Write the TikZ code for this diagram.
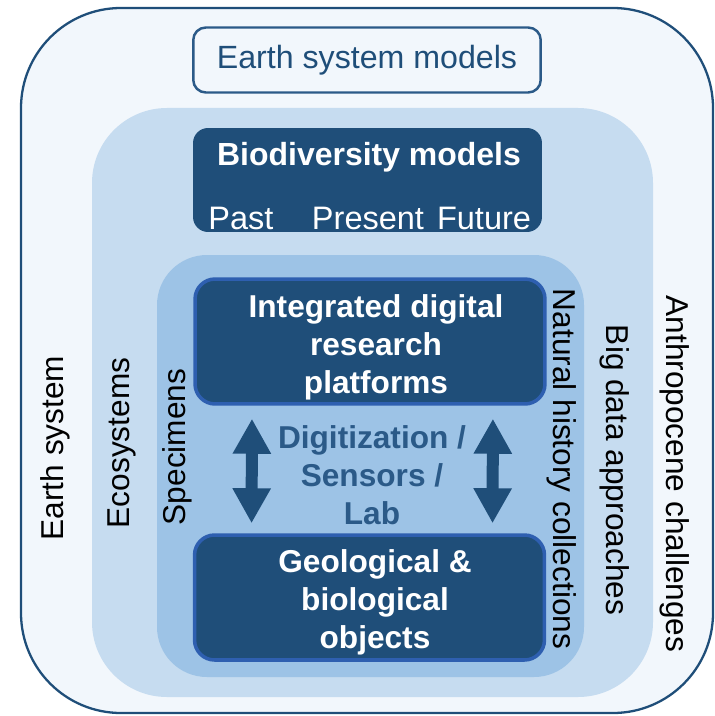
\documentclass[tikz,border=0pt]{standalone}
\usepackage{fontspec}
\setmainfont{Liberation Sans}
\usetikzlibrary{arrows.meta}
\definecolor{navy}{HTML}{1F4E79}
\definecolor{edgeblue}{HTML}{2E5FB0}
\definecolor{paleblue}{HTML}{F2F7FC}
\definecolor{lightblue}{HTML}{C6DCF0}
\definecolor{midblue}{HTML}{9DC3E6}
\definecolor{textblue}{HTML}{2B5A88}

\begin{document}
\begin{tikzpicture}[x=0.02cm,y=-0.02cm]
  \tikzstyle darkbox=[fill=navy, rounded corners=0.4cm, draw=edgeblue,
    line width=2pt, minimum width=7cm, minimum height=2.5cm]
  \tikzstyle boxtext=[text=white, align=center,
    font=\bfseries\fontsize{18}{21.6}\selectfont]
  \tikzstyle sidetext=[font=\fontsize{18}{21}\selectfont]
  \tikzstyle bigarrow=[navy, line width=0.24cm,
    {Triangle[width=0.72cm,length=0.7cm]}-{Triangle[width=0.72cm,length=0.7cm]}]
  \useasboundingbox (0,0) rectangle (715,716);
  % nested regions
  \draw [draw=navy, fill=paleblue, line width=1.3pt, rounded corners=2cm] (21,8) rectangle (713,713);
  \fill [lightblue, rounded corners=1.5cm] (92,108) rectangle (653,697);
  \fill [midblue, rounded corners=1cm] (157,255) rectangle (584,677);
  % models
  \node [draw=textblue, fill=paleblue, line width=1.4pt, rounded corners=0.25cm,
    minimum width=6.95cm, minimum height=1.3cm, text=navy,
    font=\fontsize{18.3}{21}\selectfont] (esm) at (367,60) {Earth system models};
  \node [fill=navy, rounded corners=0.3cm, minimum width=6.98cm, minimum height=2.08cm] (bio) at (367.5,180) {};
  \node [text=white, font=\bfseries\fontsize{18.2}{21}\selectfont] (biotitle) at (369,157) {Biodiversity models};
  \node [text=white, font=\fontsize{18.5}{21}\selectfont] (past) at (241,218) {Past};
  \node [text=white, font=\fontsize{18.5}{21}\selectfont] (present) at (368,218) {Present};
  \node [text=white, font=\fontsize{18.5}{21}\selectfont] (future) at (484,218) {Future};
  % platforms and objects
  \node [darkbox] (platform) at (370,341.5) {};
  \node [boxtext] (platformtext) at (376,347.5) {Integrated digital\\research\\platforms};
  \node [darkbox] (objects) at (369.5,597.5) {};
  \node [boxtext] (objectstext) at (375,602.5) {Geological \&\\biological\\objects};
  \node [text=textblue, align=center, font=\bfseries\fontsize{18}{21.6}\selectfont] (digit) at (372,475) {Digitization /\\Sensors /\\Lab};
  \draw [bigarrow, shorten <=0.26cm, shorten >=0.2cm] ([xshift=-2.36cm]platform.south) -- ([xshift=-2.36cm]objects.north);
  \draw [bigarrow, shorten <=0.26cm, shorten >=0.2cm] ([xshift=2.46cm]platform.south) -- ([xshift=2.46cm]objects.north);
  % side labels
  \node [sidetext, rotate=90] (earth) at (55,448) {Earth system};
  \node [sidetext, rotate=90] (eco) at (122,443) {Ecosystems};
  \node [sidetext, rotate=90] (spec) at (177,447) {Specimens};
  \node [sidetext, rotate=-90] (nat) at (562,469) {Natural history collections};
  \node [sidetext, rotate=-90] (big) at (615,470) {Big data approaches};
  \node [sidetext, rotate=-90] (anthro) at (675,474) {Anthropocene challenges};
\end{tikzpicture}
\end{document}
